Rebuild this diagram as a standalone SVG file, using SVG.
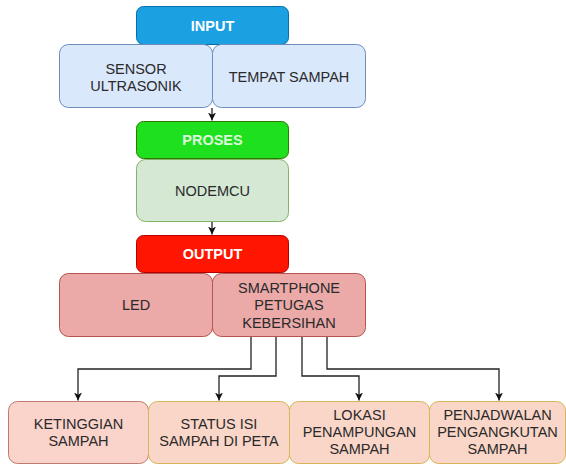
<svg xmlns="http://www.w3.org/2000/svg" width="566" height="465" viewBox="0 0 566 465">
<style>
text{font-family:"Liberation Sans",Arial,sans-serif;font-size:14.5px;text-anchor:middle;fill:#2a2a2a}
.t{font-weight:bold;fill:#ffffff}
.c{fill:none;stroke:#222222;stroke-width:1.3}
</style>
<defs>
<marker id="ah" markerWidth="10" markerHeight="10" refX="8" refY="4.5" orient="auto" markerUnits="userSpaceOnUse">
<path d="M0,0.5 L8,4.5 L0,8.5 L2.2,4.5 Z" fill="#111111"/>
</marker>
</defs>
<rect width="566" height="465" fill="#ffffff"/>
<g id="connectors">
<path class="c" d="M212,108 V120.5" marker-end="url(#ah)"/>
<path class="c" d="M212,222 V234.5" marker-end="url(#ah)"/>
<path class="c" d="M251,336 V369 H78 V400.5" marker-end="url(#ah)"/>
<path class="c" d="M276,336 V376 H219 V400.5" marker-end="url(#ah)"/>
<path class="c" d="M302,336 V376 H359 V400.5" marker-end="url(#ah)"/>
<path class="c" d="M327,336 V369 H499 V400.5" marker-end="url(#ah)"/>
</g>
<g id="input">
<rect x="136.5" y="6.5" width="152" height="38" rx="7" fill="#1ba1e2" stroke="#006eaf"/>
<text class="t" x="212.5" y="30.5">INPUT</text>
</g>
<g id="sensor">
<rect x="59.5" y="44.5" width="153" height="63" rx="9" fill="#dae8fc" stroke="#6c8ebf"/>
<text x="136" y="73.5">SENSOR</text>
<text x="136" y="91.2">ULTRASONIK</text>
</g>
<g id="tempat">
<rect x="212.5" y="44.5" width="153" height="63" rx="9" fill="#dae8fc" stroke="#6c8ebf"/>
<text x="289" y="82">TEMPAT SAMPAH</text>
</g>
<g id="proses">
<rect x="136.5" y="121.5" width="152" height="37" rx="7" fill="#1fe01f" stroke="#2d7600"/>
<text class="t" x="212.5" y="145" style="fill:#dcf8dc">PROSES</text>
</g>
<g id="nodemcu">
<rect x="136.5" y="159.5" width="152" height="62" rx="9" fill="#d5e8d4" stroke="#82b366"/>
<text x="212.5" y="196">NODEMCU</text>
</g>
<g id="output">
<rect x="136.5" y="235.5" width="152" height="37" rx="7" fill="#ff1500" stroke="#b20000"/>
<text class="t" x="212.5" y="259">OUTPUT</text>
</g>
<g id="led">
<rect x="59.5" y="273.5" width="153" height="63" rx="9" fill="#eba9a8" stroke="#b85450"/>
<text x="136" y="310">LED</text>
</g>
<g id="smartphone">
<rect x="212.5" y="273.5" width="153" height="63" rx="9" fill="#eba9a8" stroke="#b85450"/>
<text x="289" y="292.5">SMARTPHONE</text>
<text x="289" y="310.2">PETUGAS</text>
<text x="289" y="327.9">KEBERSIHAN</text>
</g>
<g id="ketinggian">
<rect x="8.5" y="401.5" width="140" height="62" rx="9" fill="#fad3cb" stroke="#c07a6f"/>
<text x="78.5" y="428.5">KETINGGIAN</text>
<text x="78.5" y="445.5">SAMPAH</text>
</g>
<g id="status">
<rect x="148.5" y="401.5" width="141" height="62" rx="9" fill="#fad6c8" stroke="#d6b656"/>
<text x="219" y="428.5">STATUS ISI</text>
<text x="219" y="445.5">SAMPAH DI PETA</text>
</g>
<g id="lokasi">
<rect x="289.5" y="401.5" width="140" height="62" rx="9" fill="#fad6c8" stroke="#d6b656"/>
<text x="359.5" y="420">LOKASI</text>
<text x="359.5" y="437">PENAMPUNGAN</text>
<text x="359.5" y="454">SAMPAH</text>
</g>
<g id="penjadwalan">
<rect x="429.5" y="401.5" width="136" height="62" rx="9" fill="#fad6c8" stroke="#d6b656"/>
<text x="497.5" y="420">PENJADWALAN</text>
<text x="497.5" y="437">PENGANGKUTAN</text>
<text x="497.5" y="454">SAMPAH</text>
</g>
</svg>
